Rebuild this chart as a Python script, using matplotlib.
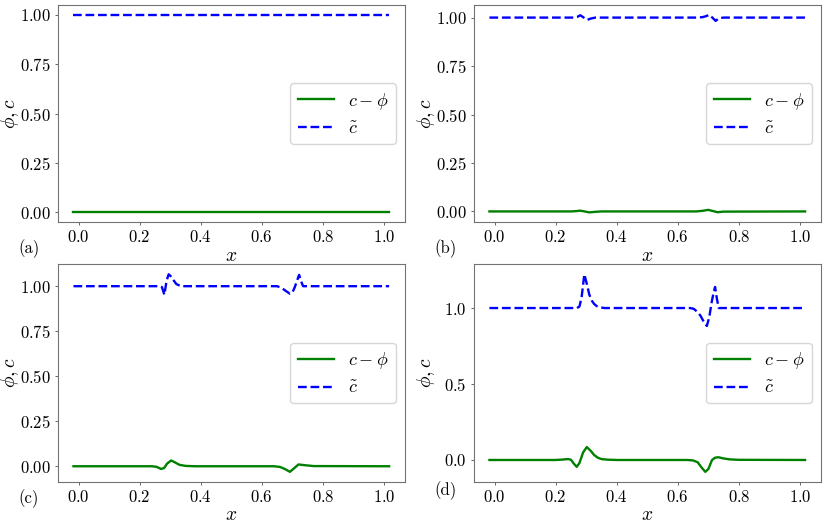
import matplotlib
matplotlib.use("Agg")
from matplotlib import pyplot as plt

plt.rcParams['font.family'] = 'serif'
plt.rcParams['font.serif'] = ['cmr10', 'DejaVu Serif']
plt.rcParams['mathtext.fontset'] = 'cm'
plt.rcParams['axes.formatter.use_mathtext'] = True
plt.rcParams['axes.unicode_minus'] = False

# panel (a): initial state
xA_ct = [-0.0167, 1.0167]
ctA = [1.0, 1.0]
xA_cp = [-0.0167, 1.0167]
cpA = [0.0, 0.0]

# panel (b)
xB_ct = [-0.0167, 0.26, 0.27, 0.281, 0.292, 0.303, 0.315, 0.33,
         0.66, 0.68, 0.69, 0.703, 0.713, 0.724, 0.735, 0.75, 1.0167]
ctB = [1.0, 1.0, 1.003, 1.012, 1.0, 0.988, 0.995, 1.0,
       1.0, 1.002, 1.006, 1.014, 1.0, 0.983, 0.997, 1.0, 1.0]
xB_cp = [-0.0167, 0.25, 0.27, 0.28, 0.295, 0.31, 0.33, 0.35,
         0.66, 0.68, 0.70, 0.715, 0.73, 0.75, 1.0167]
cpB = [0.0, 0.0, 0.002, 0.004, 0.0, -0.005, -0.002, 0.0,
       0.0, 0.003, 0.008, 0.002, -0.004, -0.001, 0.0]

# panel (c)
xC_ct = [-0.0167, 0.265, 0.273, 0.281, 0.288, 0.295, 0.302, 0.31, 0.32, 0.335,
         0.65, 0.665, 0.68, 0.692, 0.70, 0.708, 0.715, 0.722, 0.728, 0.735, 1.0167]
ctC = [1.0, 1.0, 0.995, 0.952, 1.03, 1.066, 1.055, 1.035, 1.012, 1.0,
       1.0, 0.99, 0.972, 0.958, 0.965, 0.995, 1.03, 1.063, 1.03, 1.0, 1.0]
xC_cp = [-0.0167, 0.24, 0.255, 0.27, 0.28, 0.29, 0.303, 0.315, 0.33, 0.35, 0.38,
         0.64, 0.66, 0.675, 0.692, 0.705, 0.72, 0.74, 0.77, 1.0167]
cpC = [0.0, 0.0, -0.003, -0.015, -0.01, 0.015, 0.032, 0.022, 0.008, 0.002, 0.0,
       0.0, -0.004, -0.015, -0.031, -0.012, 0.01, 0.006, 0.001, 0.0]

# panel (d)
xD_ct = [-0.0167, 0.27, 0.278, 0.285, 0.294, 0.302, 0.31, 0.318, 0.326, 0.335, 0.345, 0.36,
         0.64, 0.652, 0.664, 0.674, 0.685, 0.695, 0.703, 0.711, 0.717, 0.722, 0.728, 0.734, 1.0167]
ctD = [1.0, 1.0, 1.01, 1.07, 1.222, 1.16, 1.09, 1.05, 1.027, 1.012, 1.005, 1.0,
       1.0, 0.995, 0.975, 0.95, 0.91, 0.882, 0.94, 1.04, 1.1, 1.139, 1.06, 1.0, 1.0]
xD_cp = [-0.0167, 0.2, 0.225, 0.24, 0.25, 0.26, 0.269, 0.278, 0.29, 0.302, 0.315, 0.326,
         0.338, 0.35, 0.37, 0.40, 0.63, 0.65, 0.665, 0.678, 0.69, 0.70, 0.712, 0.722,
         0.733, 0.75, 0.77, 0.80, 1.0167]
cpD = [0.0, 0.0, 0.003, 0.006, 0.002, -0.025, -0.045, -0.02, 0.05, 0.085, 0.06, 0.033,
       0.015, 0.006, 0.002, 0.0, 0.0, -0.003, -0.015, -0.05, -0.078, -0.06, 0.0, 0.015,
       0.018, 0.01, 0.004, 0.001, 0.0]

yticks_abc = [0.0, 0.25, 0.5, 0.75, 1.0]
yticks_d = [0.0, 0.5, 1.0]
xticks = [0.0, 0.2, 0.4, 0.6, 0.8, 1.0]

panels = [
    ('(a)', xA_cp, cpA, xA_ct, ctA, yticks_abc, -0.12),
    ('(b)', xB_cp, cpB, xB_ct, ctB, yticks_abc, -0.12),
    ('(c)', xC_cp, cpC, xC_ct, ctC, yticks_abc, -0.08),
    ('(d)', xD_cp, cpD, xD_ct, ctD, yticks_d, -0.04),
]

fig, axes = plt.subplots(2, 2, figsize=(8.3, 5.26), dpi=100)
fig.subplots_adjust(left=0.0695, right=0.989, top=0.9905, bottom=0.0842,
                    wspace=0.198, hspace=0.194)

for ax, (tag, xcp, cp, xct, ct, yt, tagy) in zip(axes.flat, panels):
    ax.plot(xcp, cp, color='green', lw=1.7, label=r'$c-\phi$')
    ax.plot(xct, ct, color='blue', lw=1.7, ls='--', label=r'$\tilde{c}$')
    ax.set_xticks(xticks)
    ax.set_yticks(yt)
    ax.tick_params(labelsize=12, length=2.5, width=0.7, color='0.4', pad=2.5)
    for sp in ax.spines.values():
        sp.set_edgecolor('0.45')
        sp.set_linewidth(0.8)
    ax.set_xlabel(r'$x$', fontsize=14, labelpad=1)
    ax.set_ylabel(r'$\phi, c$', fontsize=14)
    ax.yaxis.set_label_coords(-0.105, 0.5)
    ax.legend(loc='center right', fontsize=13)
    ax.text(-0.114, tagy, tag, transform=ax.transAxes, ha='left', va='center',
            fontsize=12)

fig.savefig('out.png', dpi=100)
